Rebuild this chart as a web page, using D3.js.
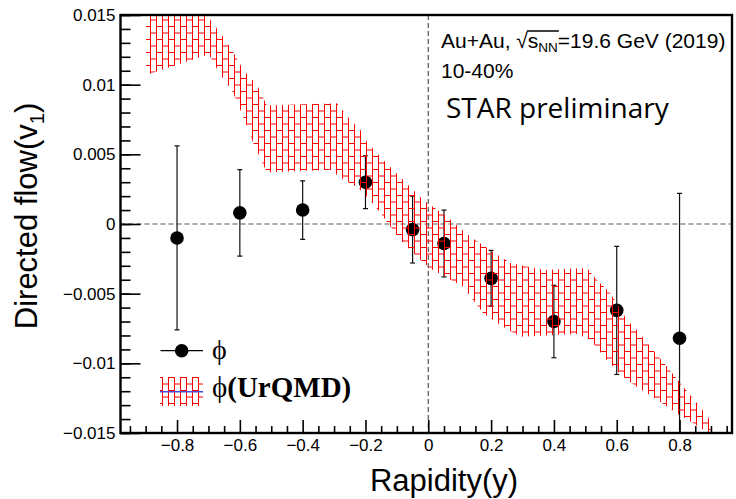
<!DOCTYPE html>
<html>
<head>
<meta charset="utf-8">
<script src="https://cdn.jsdelivr.net/npm/d3@7"></script>
<style>
  html, body { margin: 0; padding: 0; background: #fff; }
  svg { display: block; }
</style>
</head>
<body>
<svg id="chart" width="736" height="499"></svg>
<script>
// Directed flow v1 of the phi meson versus rapidity, with the UrQMD band.

// Measured points
const rapidity = [-0.8, -0.6, -0.4, -0.2, -0.05, 0.05, 0.2, 0.4, 0.6, 0.8];
const v1       = [-0.0010, 0.0008, 0.0010, 0.0030, -0.0004, -0.0014, -0.0039, -0.0070, -0.0062, -0.0082];
const v1Err    = [0.0066, 0.0031, 0.0021, 0.0019, 0.0024, 0.0024, 0.0020, 0.0026, 0.0046, 0.0104];

// UrQMD band: upper and lower edges
const bandUpperY = [-0.90, -0.72, -0.694, -0.662, -0.625, -0.589, -0.545, -0.514, -0.291, -0.248, -0.216,
                    -0.195, -0.143, -0.080, -0.016, 0.060, 0.134, 0.197, 0.261, 0.366, 0.505, 0.537,
                    0.579, 0.633, 0.664, 0.707, 0.760, 0.802, 0.855, 0.898];
const bandUpperV = [0.0158, 0.0156, 0.01464, 0.01371, 0.01249, 0.01105, 0.00998, 0.0085, 0.00867, 0.00746, 0.00674,
                    0.00589, 0.00459, 0.00316, 0.00172, 0.00052, -0.00091, -0.00187, -0.0028, -0.0033, -0.00316, -0.00402,
                    -0.00495, -0.00689, -0.00761, -0.00881, -0.01024, -0.01141, -0.01285, -0.01407];
const bandLowerY = [-0.898, -0.71, -0.694, -0.662, -0.625, -0.589, -0.557, -0.514, -0.312, -0.271, -0.223,
                    -0.185, -0.153, -0.089, -0.036, 0.006, 0.111, 0.175, 0.239, 0.293, 0.473, 0.516,
                    0.569, 0.622, 0.664, 0.728, 0.792, 0.844, 0.898];
const bandLowerV = [0.0107, 0.0121, 0.0120, 0.0107, 0.0096, 0.0077, 0.0058, 0.0037, 0.0039, 0.0032, 0.0026,
                    0.0017, 0.0008, -0.00115, -0.00235, -0.0032, -0.0045, -0.0064, -0.0074, -0.0081, -0.0079, -0.0083,
                    -0.0098, -0.0110, -0.0117, -0.0126, -0.0136, -0.0143, -0.0151];

// Axis ticks
const xTickValues = [-0.8, -0.6, -0.4, -0.2, 0, 0.2, 0.4, 0.6, 0.8];
const xTickLabels = ["\u22120.8", "\u22120.6", "\u22120.4", "\u22120.2", "0", "0.2", "0.4", "0.6", "0.8"];
const yTickValues = [-0.015, -0.01, -0.005, 0, 0.005, 0.01, 0.015];
const yTickLabels = ["\u22120.015", "\u22120.01", "\u22120.005", "0", "0.005", "0.01", "0.015"];

const sans = "'Liberation Sans', Arial, Helvetica, sans-serif";
const serif = "'Liberation Serif', 'DejaVu Serif', 'Times New Roman', serif";

const frame = { left: 120.5, right: 732, top: 15, bottom: 433 };

const svg = d3.select("#chart");

const x = d3.scaleLinear().domain([-0.98, 0.967]).range([frame.left, frame.right]);
const y = d3.scaleLinear().domain([-0.015, 0.015]).range([frame.bottom, frame.top]);

// Hatch pattern for the model band
const defs = svg.append("defs");
const hatch = defs.append("pattern")
  .attr("id", "hatch")
  .attr("patternUnits", "userSpaceOnUse")
  .attr("width", 12).attr("height", 13);
hatch.append("path")
  .attr("d", "M0.5,0V13M6.5,0V13M0.5,0.5H6.5M6.5,7H12.5")
  .attr("stroke", "#ff0000").attr("stroke-width", 1).attr("fill", "none");

defs.append("clipPath").attr("id", "plotClip")
  .append("rect")
  .attr("x", frame.left).attr("y", frame.top)
  .attr("width", frame.right - frame.left).attr("height", frame.bottom - frame.top);

const plot = svg.append("g").attr("clip-path", "url(#plotClip)");

// Zero reference lines
plot.append("line")
  .attr("x1", frame.left).attr("x2", frame.right)
  .attr("y1", y(0)).attr("y2", y(0))
  .attr("stroke", "#555").attr("stroke-width", 1.2).attr("stroke-dasharray", "5,3");
plot.append("line")
  .attr("x1", x(0)).attr("x2", x(0))
  .attr("y1", frame.top).attr("y2", frame.bottom)
  .attr("stroke", "#555").attr("stroke-width", 1.2).attr("stroke-dasharray", "5,3");

// Data points with error bars
const pts = rapidity.map((r, i) => ({ r, v: v1[i], e: v1Err[i] }));
const capHalf = 2.5;
const eb = plot.append("g").attr("stroke", "#111").attr("stroke-width", 1.2);
pts.forEach(d => {
  const cx = x(d.r);
  eb.append("line").attr("x1", cx).attr("x2", cx).attr("y1", y(d.v + d.e)).attr("y2", y(d.v - d.e));
  eb.append("line").attr("x1", cx - capHalf).attr("x2", cx + capHalf).attr("y1", y(d.v + d.e)).attr("y2", y(d.v + d.e));
  eb.append("line").attr("x1", cx - capHalf).attr("x2", cx + capHalf).attr("y1", y(d.v - d.e)).attr("y2", y(d.v - d.e));
});
plot.append("g").selectAll("circle").data(pts).join("circle")
  .attr("cx", d => x(d.r)).attr("cy", d => y(d.v)).attr("r", 6.8)
  .attr("fill", "#000");

// UrQMD band drawn over the points
const bandPts = bandUpperY.map((r, i) => [r, bandUpperV[i]])
  .concat(bandLowerY.map((r, i) => [r, bandLowerV[i]]).reverse());
const bandLine = d3.line().x(d => x(d[0])).y(d => y(d[1]));
plot.append("path")
  .attr("d", bandLine(bandPts) + "Z")
  .attr("fill", "url(#hatch)").attr("stroke", "none");

// Axes: major and minor ticks pointing inward
const xMinor = d3.range(-19, 20).map(i => i * 0.05).filter(v => Math.abs(Math.round(v * 100) % 20) !== 0);
const yMinor = d3.range(-15, 16).map(i => i * 0.001);

const xAxisMinor = d3.axisBottom(x).tickValues(xMinor).tickSize(-7).tickFormat("");
const xAxisMajor = d3.axisBottom(x).tickValues(xTickValues).tickSize(-13).tickPadding(6)
  .tickFormat((d, i) => xTickLabels[i]);
const yAxisMinor = d3.axisLeft(y).tickValues(yMinor).tickSize(-10).tickFormat("");
const yAxisMajor = d3.axisLeft(y).tickValues(yTickValues).tickSize(-20).tickPadding(5)
  .tickFormat((d, i) => yTickLabels[i]);

function styleAxis(g) {
  g.select(".domain").remove();
  g.selectAll(".tick line").attr("stroke", "#000").attr("stroke-width", 1.6);
  g.selectAll(".tick text").attr("fill", "#000").style("font-family", sans).style("font-size", "17px");
}
svg.append("g").attr("transform", `translate(0,${frame.bottom})`).call(xAxisMinor).call(styleAxis);
svg.append("g").attr("transform", `translate(0,${frame.bottom})`).call(xAxisMajor).call(styleAxis);
svg.append("g").attr("transform", `translate(${frame.left},0)`).call(yAxisMinor).call(styleAxis);
svg.append("g").attr("transform", `translate(${frame.left},0)`).call(yAxisMajor).call(styleAxis);

// Frame
svg.append("rect")
  .attr("x", frame.left).attr("y", frame.top)
  .attr("width", frame.right - frame.left).attr("height", frame.bottom - frame.top)
  .attr("fill", "none").attr("stroke", "#000").attr("stroke-width", 2.4);

// Axis titles
svg.append("text")
  .attr("x", 444).attr("y", 491)
  .attr("text-anchor", "middle")
  .style("font-family", sans).style("font-size", "31px")
  .text("Rapidity(y)");

const yTitle = svg.append("text")
  .attr("transform", "translate(37,216) rotate(-90)")
  .attr("text-anchor", "middle")
  .style("font-family", sans).style("font-size", "31px");
yTitle.append("tspan").text("Directed flow(v");
yTitle.append("tspan").attr("dy", 7).style("font-size", "20px").text("1");
yTitle.append("tspan").attr("dy", -7).text(")");

// Collision system annotation
const ann = svg.append("text")
  .attr("x", 441).attr("y", 48)
  .style("font-family", sans).style("font-size", "21px");
ann.append("tspan").text("Au+Au, ");
ann.append("tspan").text("\u221A");
ann.append("tspan").text("s");
ann.append("tspan").attr("dy", 4).style("font-size", "13.5px").text("NN");
ann.append("tspan").attr("dy", -4).text("=19.6 GeV (2019)");

// Overline for the square root
{
  const node = ann.node();
  const sIndex = "Au+Au, \u221A".length;
  const radIndex = sIndex - 1;
  const endIndex = sIndex + 2;
  const radEnd = node.getEndPositionOfChar(radIndex);
  const nnEnd = node.getEndPositionOfChar(endIndex);
  svg.append("line")
    .attr("x1", radEnd.x - 1).attr("x2", nnEnd.x + 1)
    .attr("y1", 48 - 17).attr("y2", 48 - 17)
    .attr("stroke", "#000").attr("stroke-width", 1.3);
}

svg.append("text")
  .attr("x", 441).attr("y", 78)
  .style("font-family", sans).style("font-size", "21px")
  .text("10-40%");

svg.append("text")
  .attr("x", 446).attr("y", 118)
  .style("font-family", "'Open Sans', 'Noto Sans', sans-serif").style("font-size", "28px")
  .text("STAR preliminary");

// Legend
const leg = svg.append("g");
leg.append("line")
  .attr("x1", 160.5).attr("x2", 203).attr("y1", 350.7).attr("y2", 350.7)
  .attr("stroke", "#000").attr("stroke-width", 1.3);
leg.append("circle").attr("cx", 181.7).attr("cy", 350.7).attr("r", 6.8).attr("fill", "#000");
leg.append("text")
  .attr("x", 212).attr("y", 359)
  .style("font-family", serif).style("font-size", "28px")
  .text("\u03D5");

leg.append("rect")
  .attr("x", 160).attr("y", 377).attr("width", 43).attr("height", 29)
  .attr("fill", "url(#hatch)");
leg.append("line")
  .attr("x1", 160).attr("x2", 203).attr("y1", 391.7).attr("y2", 391.7)
  .attr("stroke", "#4a4ad8").attr("stroke-width", 1.6);
const legT = leg.append("text")
  .attr("x", 212).attr("y", 397)
  .style("font-family", serif).style("font-size", "29px");
legT.append("tspan").text("\u03D5");
legT.append("tspan").style("font-weight", "bold").text("(UrQMD)");
</script>
</body>
</html>
